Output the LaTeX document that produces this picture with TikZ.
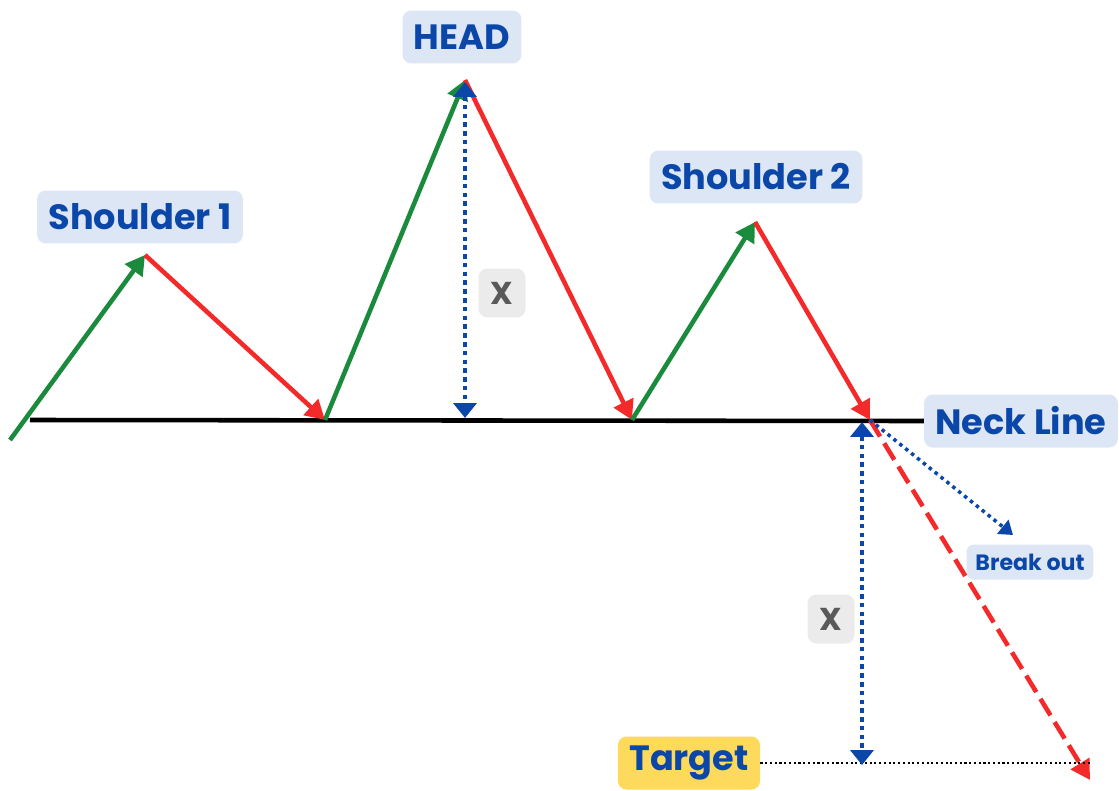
\documentclass[tikz,border=0pt]{standalone}
\usepackage{fontspec}
\setmainfont{Poppins}
\usetikzlibrary{arrows.meta,positioning}
\definecolor{navy}{HTML}{0B47A8}
\definecolor{lblfill}{HTML}{DCE6F4}
\definecolor{upgreen}{HTML}{1A8A3C}
\definecolor{downred}{HTML}{F42A2A}
\definecolor{tgtyellow}{HTML}{FDDA5C}
\definecolor{xgray}{HTML}{EBEBEB}

\begin{document}
\begin{tikzpicture}[x=0.02cm, y=-0.02cm,
  tag/.style={rectangle, fill=#1, rounded corners=5pt, inner xsep=6.5pt, minimum height=1.06cm, font=\fontsize{20}{24}\selectfont\bfseries, text=navy},
  tag/.default=lblfill,
  xtag/.style={rectangle, fill=xgray, rounded corners=5pt, minimum width=0.94cm, minimum height=0.98cm, font=\fontsize{18}{22}\selectfont\bfseries, text=black!65},
  up/.style={upgreen, line width=2.6pt, -{Triangle[length=11pt,width=12pt]}},
  down/.style={downred, line width=2.6pt, -{Triangle[length=11pt,width=12pt]}},
  span/.style={navy, line width=2.8pt, dash pattern=on 2.6pt off 2.4pt, {Triangle[length=8.5pt,width=13pt]}-{Triangle[length=8.5pt,width=13pt]}}
]
  \useasboundingbox (0,0) rectangle (1119,791);

  % turning points
  \coordinate (p0) at (10,440);
  \coordinate (sh1) at (145,255);
  \coordinate (t1) at (325,420);
  \coordinate (hd) at (465,80);
  \coordinate (t2) at (632,420);
  \coordinate (sh2) at (755,222);
  \coordinate (brk) at (870,420);
  \coordinate (tgt) at (1090,780);
  \coordinate (nl0) at (30,420);

  % labels
  \node[tag] (lsh1) at (140,217) {Shoulder 1};
  \node[tag] (lhd) at (462,37) {HEAD};
  \node[tag] (lsh2) at (756,177) {Shoulder 2};
  \node[tag] (neck) at (1021,421) {Neck Line};
  \node[tag=tgtyellow] (target) at (689,763) {Target};
  \node[rectangle, fill=lblfill, rounded corners=4pt, minimum height=0.7cm, inner xsep=5pt, font=\fontsize{12.6}{15}\selectfont\bfseries, text=navy] (lbrk) at (1030,562) {Break out};
  \node[xtag] (x1) at (502,293) {X};
  \node[xtag] (x2) at (831,619) {X};

  % neck line
  \draw[line width=2.6pt] (nl0) -- (neck.west);

  % price swings
  \draw[up] (p0) -- (sh1);
  \draw[down] (sh1) -- (t1);
  \draw[up] (t1) -- (hd);
  \draw[down] (hd) -- (t2);
  \draw[up] (t2) -- (sh2);
  \draw[down] (sh2) -- (brk);
  \draw[downred, line width=2.6pt, dash pattern=on 11pt off 4.5pt, -{Triangle[length=11pt,width=12pt]}] (brk) -- (tgt);

  % target level
  \draw[line width=1.2pt, dash pattern=on 1.2pt off 1.5pt] (target.east) -- (tgt |- target.east);

  % measured heights
  \coordinate (hdb) at (465,418);
  \coordinate (hdt) at (465,82);
  \draw[span] (hdt) -- (hdb);
  \coordinate (mt) at (862,422);
  \coordinate (mb) at (862,765);
  \draw[span] (mt) -- (mb);

  % break out
  \coordinate (bo) at (1013,535);
  \draw[navy, line width=2pt, dash pattern=on 2pt off 2.3pt, -{Triangle[length=7.5pt,width=10pt]}] (brk) -- (bo);
\end{tikzpicture}
\end{document}
